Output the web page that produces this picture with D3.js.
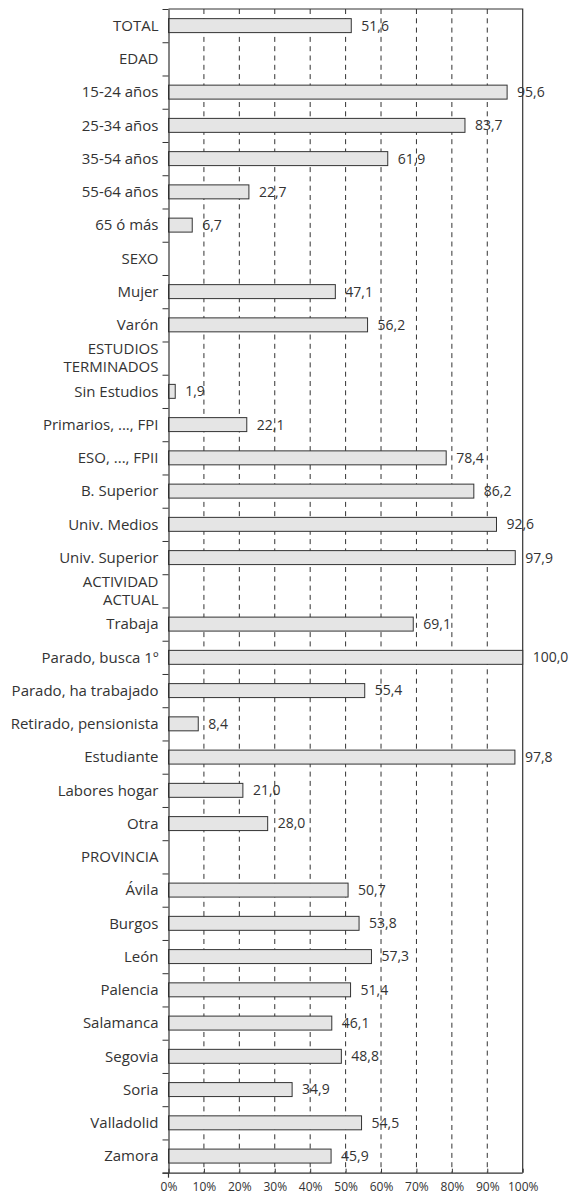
<!DOCTYPE html>
<html>
<head>
<meta charset="utf-8">
<script src="https://cdn.jsdelivr.net/npm/d3@7"></script>
<style>
  html, body { margin: 0; padding: 0; background: #fff; }
  svg text { font-family: "Open Sans", "Noto Sans", sans-serif; fill: #333; }
</style>
</head>
<body>
<svg id="chart" width="571" height="1196"></svg>
<script>
// ---- data ----
const categories = [
  "TOTAL", "EDAD", "15-24 años", "25-34 años", "35-54 años", "55-64 años", "65 ó más",
  "SEXO", "Mujer", "Varón",
  "ESTUDIOS\nTERMINADOS", "Sin Estudios", "Primarios, ..., FPI", "ESO, ..., FPII", "B. Superior", "Univ. Medios", "Univ. Superior",
  "ACTIVIDAD\nACTUAL", "Trabaja", "Parado, busca 1º", "Parado, ha trabajado", "Retirado, pensionista", "Estudiante", "Labores hogar", "Otra",
  "PROVINCIA", "Ávila", "Burgos", "León", "Palencia", "Salamanca", "Segovia", "Soria", "Valladolid", "Zamora"
];
const values = [
  51.6, null, 95.6, 83.7, 61.9, 22.7, 6.7,
  null, 47.1, 56.2,
  null, 1.9, 22.1, 78.4, 86.2, 92.6, 97.9,
  null, 69.1, 100.0, 55.4, 8.4, 97.8, 21.0, 28.0,
  null, 50.7, 53.8, 57.3, 51.4, 46.1, 48.8, 34.9, 54.5, 45.9
];
const xTicks = [0, 10, 20, 30, 40, 50, 60, 70, 80, 90, 100];
const gridTicks = [10, 20, 30, 40, 50, 60, 70, 80, 90];

// ---- layout ----
const mLeft = 168.5, mRight = 522.7, mTop = 9, mBottom = 1172.7;
const svg = d3.select("#chart");
const x = d3.scaleLinear().domain([0, 100]).range([mLeft, mRight]);
const y = d3.scaleBand().domain(categories).range([mTop, mBottom]).paddingInner(0.58).paddingOuter(0.29);
const yIdx = d3.scaleLinear().domain([0, categories.length]).range([mTop, mBottom]);
const fmt = v => d3.format(".1f")(v).replace(".", ",");

// grid
svg.append("g").selectAll("line").data(gridTicks).join("line")
  .attr("x1", d => x(d)).attr("x2", d => x(d))
  .attr("y1", mTop).attr("y2", mBottom)
  .attr("stroke", "#333").attr("stroke-width", 1)
  .attr("stroke-dasharray", "5,4.3");

// frame (top, right)
svg.append("path")
  .attr("d", `M${mLeft},${mTop}H${mRight}V${mBottom}`)
  .attr("fill", "none").attr("stroke", "#333").attr("stroke-width", 1.2);

// bars
const data = categories.map((c, i) => ({ c, v: values[i] })).filter(d => d.v !== null);
svg.append("g").selectAll("rect").data(data).join("rect")
  .attr("x", x(0))
  .attr("y", d => y(d.c))
  .attr("width", d => x(d.v) - x(0))
  .attr("height", y.bandwidth())
  .attr("fill", "#e5e5e5")
  .attr("stroke", "#333").attr("stroke-width", 1);

// value labels
svg.append("g").selectAll("text").data(data).join("text")
  .attr("x", d => x(d.v) + 10)
  .attr("y", d => y(d.c) + y.bandwidth() / 2)
  .attr("dy", "0.35em")
  .attr("font-size", 14)
  .text(d => fmt(d.v));

// left axis (ticks at band boundaries)
const yAxis = svg.append("g").attr("transform", `translate(${mLeft},0)`)
  .call(d3.axisLeft(yIdx).tickValues(d3.range(categories.length + 1)).tickFormat("").tickSize(6).tickSizeOuter(0));
yAxis.select(".domain").attr("stroke", "#333").attr("stroke-width", 1.2);
yAxis.selectAll(".tick line").attr("stroke", "#333");
svg.append("line").attr("x1", mLeft).attr("x2", mLeft).attr("y1", mBottom).attr("y2", mBottom + 5)
  .attr("stroke", "#333").attr("stroke-width", 1.2);

// category labels (one text element per line)
const labelLines = [];
categories.forEach(c => {
  const lines = c.split("\n");
  lines.forEach((ln, i) => labelLines.push({ c, ln, off: (i - (lines.length - 1) / 2) * 18 }));
});
svg.append("g").selectAll("text").data(labelLines).join("text")
  .attr("x", mLeft - 10)
  .attr("y", d => y(d.c) + y.bandwidth() / 2 + d.off)
  .attr("dy", "0.35em")
  .attr("text-anchor", "end")
  .attr("font-size", 15)
  .text(d => d.ln);

// bottom axis
const xAxis = svg.append("g").attr("transform", `translate(0,${mBottom})`)
  .call(d3.axisBottom(x).tickValues(xTicks).tickFormat(d => d + "%").tickSizeInner(-4).tickSizeOuter(0).tickPadding(10));
xAxis.select(".domain").attr("stroke", "#333").attr("stroke-width", 1.2)
  .attr("d", `M${mLeft - 6},0.5H${mRight}`);
xAxis.selectAll(".tick line").attr("stroke", "#333");
xAxis.selectAll("text").attr("font-size", 12).attr("font-family", "'Open Sans', sans-serif").attr("fill", "#333");
</script>
</body>
</html>
